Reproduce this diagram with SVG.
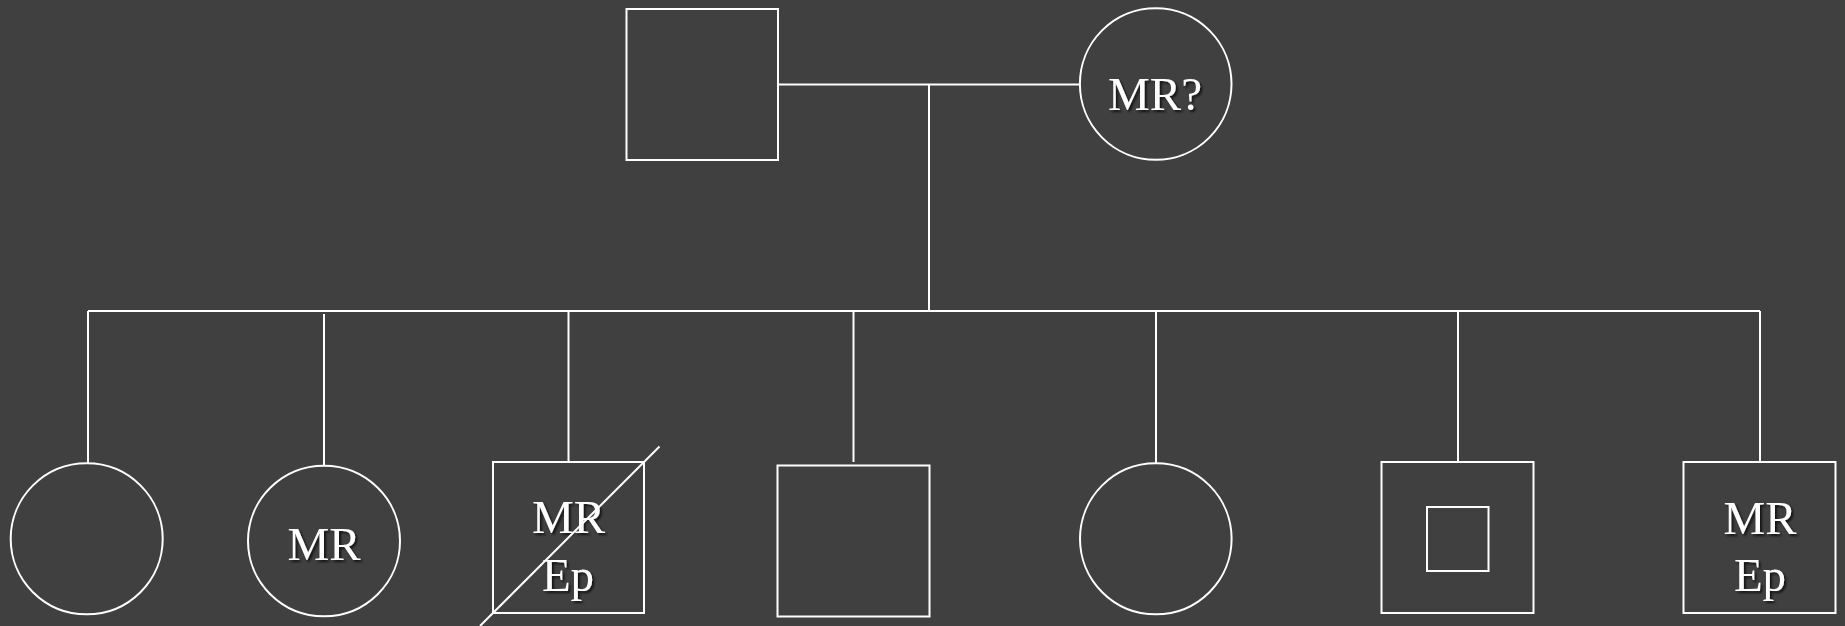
<svg xmlns="http://www.w3.org/2000/svg" width="1845" height="626" viewBox="0 0 1845 626">
<defs>
<filter id="sh" x="-20%" y="-20%" width="140%" height="140%">
<feDropShadow dx="2" dy="2" stdDeviation="1.2" flood-color="#000" flood-opacity="0.7"/>
</filter>
</defs>
<style>
.s{fill:none;stroke:#fff;stroke-width:2}
.t{fill:#fff;font-family:"Liberation Serif","Times New Roman",serif;font-size:47px;text-anchor:middle;filter:url(#sh)}
</style>
<rect width="1845" height="626" fill="#404040"/>
<g id="connectors" class="s">
<line x1="778" y1="84.5" x2="1080" y2="84.5"/>
<line x1="929" y1="84.5" x2="929" y2="311"/>
<line x1="88" y1="311" x2="1760" y2="311"/>
<line x1="88" y1="311" x2="88" y2="463.5"/>
<line x1="324" y1="314" x2="324" y2="465.5"/>
<line x1="568.5" y1="311" x2="568.5" y2="462"/>
<line x1="853.5" y1="311" x2="853.5" y2="462"/>
<line x1="1156" y1="311" x2="1156" y2="463.5"/>
<line x1="1458" y1="311" x2="1458" y2="462"/>
<line x1="1760" y1="311" x2="1760" y2="462"/>
</g>
<g id="father"><rect class="s" x="626.5" y="9" width="151.5" height="151"/></g>
<g id="mother"><circle class="s" cx="1155.7" cy="84" r="75.8"/><text class="t" x="1155" y="109.5">MR?</text></g>
<g id="child1"><ellipse class="s" cx="86.7" cy="538.8" rx="76" ry="75.5"/></g>
<g id="child2"><ellipse class="s" cx="324" cy="541" rx="76" ry="75.2"/><text class="t" x="324" y="559.5">MR</text></g>
<g id="child3"><rect class="s" x="493" y="462" width="151" height="151"/><text class="t" x="568.5" y="532.5">MR</text><text class="t" x="568" y="591">Ep</text><line class="s" x1="480" y1="626" x2="659.5" y2="446.5"/></g>
<g id="child4"><rect class="s" x="777.5" y="465.5" width="152" height="151"/></g>
<g id="child5"><ellipse class="s" cx="1155.8" cy="538.8" rx="75.8" ry="75.5"/></g>
<g id="child6"><rect class="s" x="1381.5" y="462" width="152" height="151"/><rect class="s" x="1427" y="507" width="61.5" height="64"/></g>
<g id="child7"><rect class="s" x="1683.5" y="462" width="152" height="151"/><text class="t" x="1760" y="533.5">MR</text><text class="t" x="1760" y="591">Ep</text></g>
</svg>
